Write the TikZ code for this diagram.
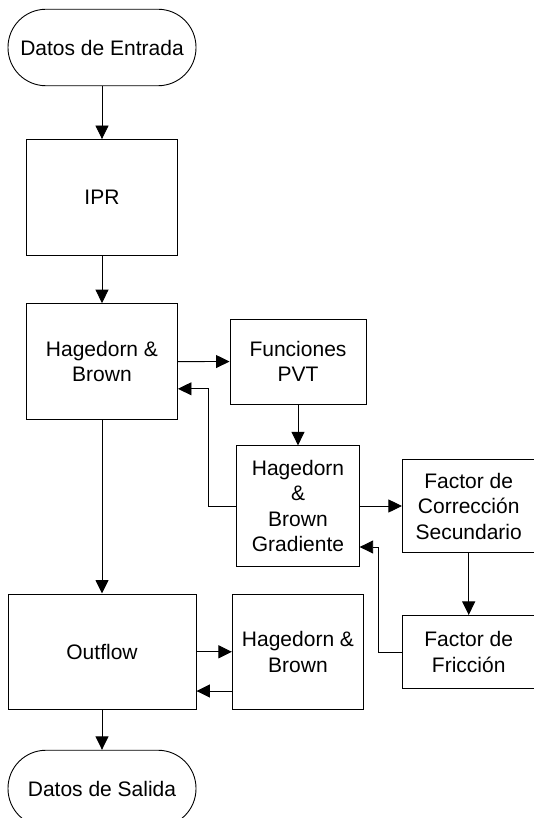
\documentclass[tikz,border=0pt]{standalone}
\usepackage{fontspec}
\setmainfont{Liberation Sans}
\usetikzlibrary{arrows.meta}
\tikzstyle{terminal}=[draw,rectangle,rounded corners=38pt,minimum width=188pt,minimum height=76.5pt,align=center]
\tikzstyle{process}=[draw,rectangle,align=center,inner sep=2pt]
\tikzstyle{line}=[draw=black,line width=0.9pt]
\tikzstyle{arrow}=[line,-{Triangle[length=13.5pt,width=13pt]}]

\begin{document}
\begin{tikzpicture}[x=1pt,y=1pt,font=\fontsize{21}{25.5}\selectfont]
  \useasboundingbox (0,0) rectangle (533,-818);

  \node[terminal,line] (entrada) at (102,-47.5) {Datos de Entrada};
  \node[process,line,minimum width=151pt,minimum height=116pt] (ipr) at (102,-197.5) {IPR};
  \node[process,line,minimum width=151pt,minimum height=116pt] (hb) at (102,-361.6) {Hagedorn \&\\Brown};
  \node[process,line,minimum width=136pt,minimum height=85pt] (pvt) at (298,-361.5) {Funciones\\PVT};
  \node[process,line,minimum width=122.4pt,minimum height=120.4pt] (grad) at (298,-506) {Hagedorn\\\&\\Brown\\Gradiente};
  \node[process,line,minimum width=132.6pt,minimum height=93.5pt] (corr) at (468.7,-506) {Factor de\\Corrección\\Secundario};
  \node[process,line,minimum width=132.6pt,minimum height=73.2pt] (fric) at (468.7,-652) {Factor de\\Fricción};
  \node[process,line,minimum width=188pt,minimum height=115.7pt] (outflow) at (102,-651.8) {Outflow};
  \node[process,line,minimum width=131.3pt,minimum height=115.7pt] (hb2) at (298,-651.8) {Hagedorn \&\\Brown};
  \node[terminal,line] (salida) at (102,-788.5) {Datos de Salida};

  % Connect blocks with arrows
  \foreach \source / \dest in {entrada/ipr, ipr/hb, hb/outflow, outflow/salida,
                               pvt/grad, corr/fric, hb/pvt, grad/corr, outflow/hb2}
      \path[arrow] (\source) -- (\dest);

  % feedback paths
  \path[arrow] (grad.west) -- ++(-28.2,0) |- ([yshift=-27.2pt]hb.east);
  \path[arrow] (fric.west) -- ++(-23.1,0) |- ([yshift=-41pt]grad.east);
  \path[arrow] ([yshift=-39.2pt]hb2.west) -- ([yshift=-39.2pt]outflow.east);
\end{tikzpicture}
\end{document}
